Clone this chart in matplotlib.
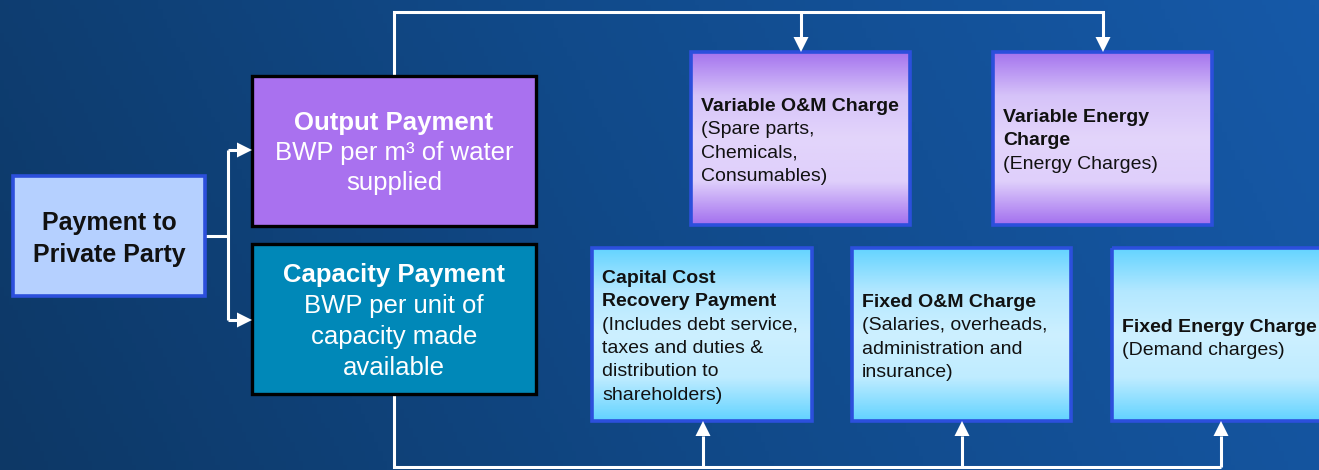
import matplotlib.pyplot as plt
import numpy as np
from matplotlib.patches import Rectangle, Polygon
from matplotlib.colors import LinearSegmentedColormap

plt.rcParams['font.family'] = ['Liberation Sans', 'DejaVu Sans']

# texts of the diagram
payment_lines = ["Payment to", "Private Party"]
output_title = "Output Payment"
output_lines = ["BWP per m\u00b3 of water", "supplied"]
capacity_title = "Capacity Payment"
capacity_lines = ["BWP per unit of", "capacity made", "available"]

variable_titles = [["Variable O&M Charge"], ["Variable Energy", "Charge"]]
variable_notes = [["(Spare parts,", "Chemicals,", "Consumables)"], ["(Energy Charges)"]]

fixed_titles = [["Capital Cost", "Recovery Payment"], ["Fixed O&M Charge"], ["Fixed Energy Charge"]]
fixed_notes = [["(Includes debt service,", "taxes and duties &", "distribution to", "shareholders)"],
               ["(Salaries, overheads,", "administration and", "insurance)"],
               ["(Demand charges)"]]

W, H = 1319, 470
fig = plt.figure(figsize=(W / 100, H / 100), dpi=100)
ax = fig.add_axes([0, 0, 1, 1])
ax.set_xlim(0, W)
ax.set_ylim(H, 0)
ax.axis('off')

# background gradient
bg = LinearSegmentedColormap.from_list("bg", ["#0d3866", "#114a8a", "#1659a8"])
gx = np.linspace(0, 1, 300)
gy = np.linspace(0, 1, 100)
GX, GY = np.meshgrid(gx, gy)
ax.imshow(0.85 * GX + 0.15 * (1 - GY), cmap=bg, extent=(0, W, H, 0), aspect='auto', zorder=0)

WHITE = "white"
LW = 2.2


def grad_box(x0, y0, x1, y1, stops, edge):
    cm = LinearSegmentedColormap.from_list("g", stops)
    v = np.linspace(0, 1, 200).reshape(-1, 1)
    ax.imshow(v, cmap=cm, extent=(x0, x1, y1, y0), aspect='auto', zorder=2)
    ax.add_patch(Rectangle((x0, y0), x1 - x0, y1 - y0, fill=False, ec=edge, lw=2.6, zorder=3))
    ax.set_xlim(0, W)
    ax.set_ylim(H, 0)


def arrow_head(x, y, direction, size=15, half=7.5):
    if direction == "right":
        pts = [(x, y), (x - size, y - half), (x - size, y + half)]
    elif direction == "down":
        pts = [(x, y), (x - half, y - size), (x + half, y - size)]
    else:
        pts = [(x, y), (x - half, y + size), (x + half, y + size)]
    ax.add_patch(Polygon(pts, closed=True, fc=WHITE, ec='none', zorder=4))


def line(xs, ys):
    ax.plot(xs, ys, color=WHITE, lw=LW, solid_capstyle='butt', solid_joinstyle='miter', zorder=1)


# connectors
line([205, 228], [236, 236])
line([228, 228], [150, 320])
line([228, 240], [150, 150])
line([228, 240], [320, 320])
arrow_head(252, 150, "right")
arrow_head(252, 320, "right")

line([394, 394, 1103, 1103], [76, 12, 12, 40])
line([801, 801], [12, 40])
arrow_head(801, 52, "down")
arrow_head(1103, 52, "down")

line([394, 394, 1221], [394, 467, 467])
for x in [703, 962, 1221]:
    line([x, x], [467, 436])
    arrow_head(x, 421, "up")

# left boxes
ax.add_patch(Rectangle((13, 176), 192, 120, fc="#b5d0ff", ec="#2c4fdc", lw=2.6, zorder=2))
for i, s in enumerate(payment_lines):
    ax.text(109, 230 + 32 * i, s, ha='center', va='baseline', fontsize=18, fontweight='bold',
            color='#111111', zorder=5)

ax.add_patch(Rectangle((252, 76), 284, 150, fc="#a971ef", ec="black", lw=2.4, zorder=2))
ax.text(394, 130, output_title, ha='center', va='baseline', fontsize=18.5, fontweight='bold',
        color=WHITE, zorder=5)
for i, s in enumerate(output_lines):
    ax.text(394, 160 + 30 * i, s, ha='center', va='baseline', fontsize=18.5, color=WHITE, zorder=5)

ax.add_patch(Rectangle((252, 244), 284, 150, fc="#0088b8", ec="black", lw=2.4, zorder=2))
ax.text(394, 282, capacity_title, ha='center', va='baseline', fontsize=18.5, fontweight='bold',
        color=WHITE, zorder=5)
for i, s in enumerate(capacity_lines):
    ax.text(394, 313 + 31 * i, s, ha='center', va='baseline', fontsize=18.5, color=WHITE, zorder=5)

# variable charge boxes
purple = ["#a574ee", "#d6c3f9", "#e3d5fb", "#dfcffb", "#a370ef"]
var_x = [(691, 910), (993, 1212)]
var_first = [111, 122]
for (x0, x1), titles, notes, yb in zip(var_x, variable_titles, variable_notes, var_first):
    grad_box(x0, 52, x1, 225, purple, "#2c4fdc")
    for i, s in enumerate(titles + notes):
        ax.text(x0 + 10, yb + 23.3 * i, s, ha='left', va='baseline', fontsize=14,
                fontweight='bold' if i < len(titles) else 'normal', color='#111111', zorder=5)

# fixed charge boxes
cyan = ["#64d4ff", "#b4e8ff", "#cdf0ff", "#bfecff", "#62d3ff"]
fix_x = [(592, 812), (852, 1071), (1112, 1330)]
fix_first = [283, 307, 332]
for (x0, x1), titles, notes, yb in zip(fix_x, fixed_titles, fixed_notes, fix_first):
    grad_box(x0, 248, x1, 421, cyan, "#2c4fdc")
    for i, s in enumerate(titles + notes):
        ax.text(x0 + 10, yb + 23.3 * i, s, ha='left', va='baseline', fontsize=14,
                fontweight='bold' if i < len(titles) else 'normal', color='#111111', zorder=5)

fig.savefig("out.png", dpi=100)
